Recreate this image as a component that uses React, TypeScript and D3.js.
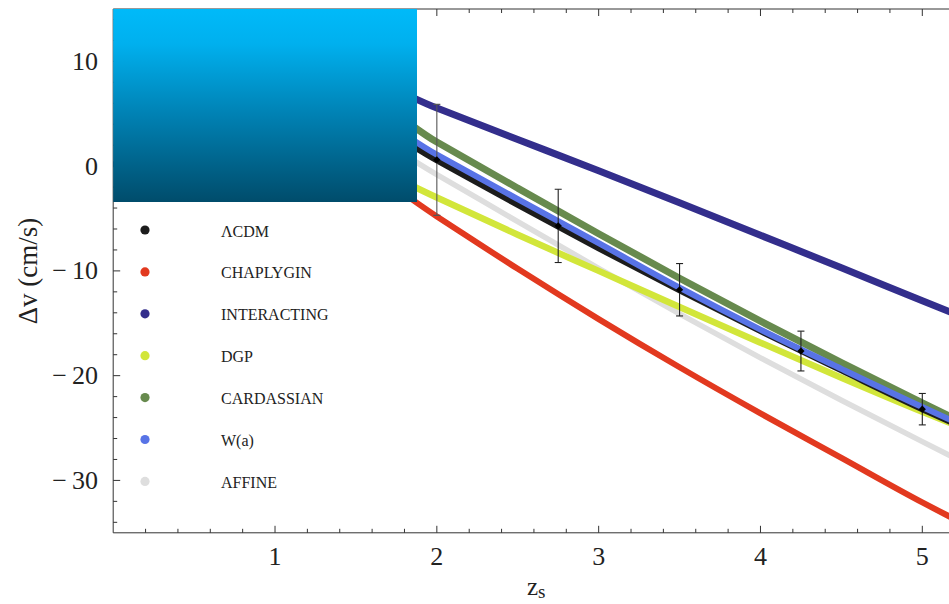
import React from 'react';
import * as d3 from 'd3';

const W = 949;
const H = 604;

// redshift grid shared by every model curve
const zGrid = [0, 0.5, 1, 1.5, 2, 2.5, 3, 3.5, 4, 4.5, 5, 5.2];

// Δv (cm/s) for each cosmological model on zGrid
const lcdm = [0, 4.0, 5.8, 4.7, 0.55, -3.7, -7.85, -11.85, -15.75, -19.5, -23.2, -24.6];
const chaplygin = [0, 2.4, 2.4, 0.2, -4.8, -9.8, -14.6, -19.2, -23.6, -27.85, -32.1, -33.7];
const interacting = [0, 6.0, 9.0, 8.5, 5.55, 2.55, -0.45, -3.5, -6.6, -9.7, -12.85, -14.1];
const dgp = [0, 2.5, 3.2, 0.6, -3.0, -6.55, -10.0, -13.45, -16.85, -20.2, -23.45, -24.7];
const cardassian = [0, 4.8, 7.4, 6.8, 2.3, -2.1, -6.45, -10.7, -14.8, -18.75, -22.6, -24.1];
const wa = [0, 4.3, 6.4, 5.4, 1.1, -3.15, -7.35, -11.6, -15.6, -19.35, -23.0, -24.4];
const affine = [0, 4.0, 5.5, 3.6, -0.8, -5.3, -9.75, -14.1, -18.3, -22.35, -26.3, -27.85];

const legendNames = ['ΛCDM', 'CHAPLYGIN', 'INTERACTING', 'DGP', 'CARDASSIAN', 'W(a)', 'AFFINE'];
const legendColors = ['#1c1c1c', '#e2391f', '#332e8c', '#d2e63a', '#678a4e', '#5873e6', '#dedede'];

// simulated measurements with error bars
const obsZ = [2, 2.75, 3.5, 4.25, 5];
const obsV = [0.6, -5.7, -11.8, -17.65, -23.2];
const obsErr = [5.3, 3.5, 2.5, 1.9, 1.5];

const xTicks = [1, 2, 3, 4, 5];
const yTicks = [-30, -20, -10, 0, 10];

const serif = '"Liberation Serif", "DejaVu Serif", serif';

export default function App() {
  const x = d3.scaleLinear().domain([0, 5]).range([113.2, 922.3]);
  const y = d3.scaleLinear().domain([-35, 15]).range([532.8, 9]);

  const left = x(0);
  const bottom = y(-35);
  const top = y(15);

  const line = d3
    .line<number>()
    .x((_, i) => x(zGrid[i]))
    .y((d) => y(d))
    .curve(d3.curveMonotoneX);

  // drawing order: lower layers first
  const curves = [
    { v: affine, color: legendColors[6], w: 5.5 },
    { v: chaplygin, color: legendColors[1], w: 6 },
    { v: dgp, color: legendColors[3], w: 6.5 },
    { v: lcdm, color: legendColors[0], w: 6 },
    { v: cardassian, color: legendColors[4], w: 7 },
    { v: wa, color: legendColors[5], w: 6 },
    { v: interacting, color: legendColors[2], w: 7 },
  ];

  const xMinor = d3.range(0.2, 5.21, 0.2).filter((t) => Math.abs(t - Math.round(t)) > 1e-6);
  const yMinor = d3.range(-34, 15, 2).filter((t) => t % 10 !== 0);

  const legendTop = 230;
  const legendStep = 41.9;

  return (
    <svg
      width={W}
      height={H}
      style={{ position: 'absolute', left: 0, top: 0, background: '#fff' }}
      fontFamily={serif}
    >
      <defs>
        <clipPath id="plot-area">
          <rect x={left} y={top} width={W - left} height={bottom - top} />
        </clipPath>
        <linearGradient id="cover-fill" x1="0" y1="0" x2="0" y2="1">
          <stop offset="0" stopColor="#00baf9" />
          <stop offset="0.18" stopColor="#00b0ee" />
          <stop offset="0.55" stopColor="#0081b3" />
          <stop offset="1" stopColor="#004c6b" />
        </linearGradient>
      </defs>

      {/* model curves */}
      <g clipPath="url(#plot-area)">
        {curves.map((c, i) => (
          <path
            key={i}
            d={line(c.v) || ''}
            fill="none"
            stroke={c.color}
            strokeWidth={c.w}
            strokeLinejoin="round"
          />
        ))}

        {/* measurements */}
        {obsZ.map((z, i) => {
          const cx = x(z);
          const cy = y(obsV[i]);
          const y1 = y(obsV[i] + obsErr[i]);
          const y2 = y(obsV[i] - obsErr[i]);
          const d = 3.6;
          return (
            <g key={i} stroke={i === 0 ? '#555' : '#222'} strokeWidth={1.1}>
              <line x1={cx} x2={cx} y1={y1} y2={y2} />
              <line x1={cx - 3.5} x2={cx + 3.5} y1={y1} y2={y1} />
              <line x1={cx - 3.5} x2={cx + 3.5} y1={y2} y2={y2} />
              <path
                d={`M${cx},${cy - d}L${cx + d},${cy}L${cx},${cy + d}L${cx - d},${cy}Z`}
                fill="#000"
                stroke="none"
              />
            </g>
          );
        })}
      </g>

      {/* frame and ticks */}
      <g stroke="#333" strokeWidth={1}>
        <line x1={left} x2={W} y1={bottom} y2={bottom} />
        <line x1={left} x2={W} y1={top} y2={top} />
        <line x1={left} x2={left} y1={top} y2={bottom} />
        {xTicks.map((t) => (
          <g key={'xt' + t}>
            <line x1={x(t)} x2={x(t)} y1={bottom} y2={bottom - 7} />
            <line x1={x(t)} x2={x(t)} y1={top} y2={top + 7} />
          </g>
        ))}
        {xMinor.map((t) => (
          <g key={'xm' + t}>
            <line x1={x(t)} x2={x(t)} y1={bottom} y2={bottom - 4} />
            <line x1={x(t)} x2={x(t)} y1={top} y2={top + 4} />
          </g>
        ))}
        {yTicks.map((t) => (
          <line key={'yt' + t} x1={left} x2={left + 7} y1={y(t)} y2={y(t)} />
        ))}
        {yMinor.map((t) => (
          <line key={'ym' + t} x1={left} x2={left + 4} y1={y(t)} y2={y(t)} />
        ))}
      </g>

      {/* tick labels */}
      <g fill="#222" fontSize={26}>
        {yTicks.map((t) => (
          <text key={'yl' + t} x={98} y={y(t)} dy="0.33em" textAnchor="end">
            {t < 0 ? `\u2212\u2009${Math.abs(t)}` : `${t}`}
          </text>
        ))}
        {xTicks.map((t) => (
          <text key={'xl' + t} x={x(t)} y={565} textAnchor="middle">
            {t}
          </text>
        ))}
      </g>

      {/* axis titles */}
      <text
        transform="translate(37,271) rotate(-90)"
        textAnchor="middle"
        fontSize={27}
        fill="#222"
      >
        Δv (cm/s)
      </text>
      <text x={527} y={595} fontSize={25} fill="#222">
        z
        <tspan fontSize={19} dy={3}>
          s
        </tspan>
      </text>

      {/* covering panel */}
      <rect x={left} y={top} width={417 - left} height={202 - top} fill="url(#cover-fill)" />

      {/* legend */}
      <g>
        {legendNames.map((name, i) => {
          const cy = legendTop + i * legendStep;
          return (
            <g key={name}>
              <circle cx={145} cy={cy} r={4.6} fill={legendColors[i]} />
              <text x={221} y={cy + 6.5} fontSize={16} fill="#222">
                {name}
              </text>
            </g>
          );
        })}
      </g>
    </svg>
  );
}
